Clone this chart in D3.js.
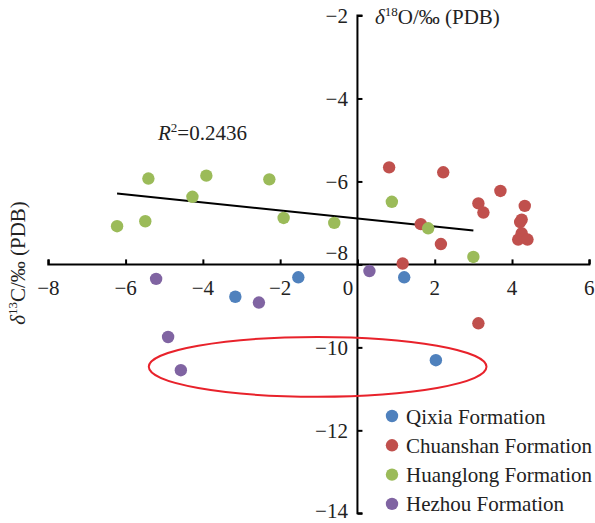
<!DOCTYPE html>
<html>
<head>
<meta charset="utf-8">
<script src="https://cdn.jsdelivr.net/npm/d3@7/dist/d3.min.js"></script>
<style>
  html, body { margin: 0; padding: 0; background: #fff; }
  svg { display: block; font-family: "Liberation Serif", "Times New Roman", serif; }
</style>
</head>
<body>
<svg id="chart" width="595" height="523"></svg>
<script>
// ---- data (δ18O, δ13C) ----
const seriesNames = ["Qixia Formation", "Chuanshan Formation", "Huanglong Formation", "Hezhou Formation"];
const seriesColors = ["#4F81BD", "#C0504D", "#9BBB59", "#8064A2"];

const qixiaX = [-1.53, 1.21, -3.16, 2.03];
const qixiaY = [-8.31, -8.31, -8.78, -10.31];

const chuanshanX = [0.82, 2.22, 3.70, 3.13, 3.26, 4.33, 4.25, 4.21, 4.25, 4.16, 4.40, 1.64, 2.16, 1.17, 3.13];
const chuanshanY = [-5.66, -5.78, -6.23, -6.53, -6.75, -6.59, -6.92, -6.98, -7.25, -7.40, -7.40, -7.03, -7.51, -7.98, -9.42];

const huanglongX = [-5.41, -3.91, -2.28, -4.27, -6.22, -5.49, -1.91, -0.60, 0.89, 1.83, 3.00];
const huanglongY = [-5.93, -5.86, -5.95, -6.37, -7.08, -6.96, -6.88, -7.00, -6.49, -7.13, -7.82];

const hezhouX = [-5.21, 0.31, -2.55, -4.90, -4.57];
const hezhouY = [-8.35, -8.16, -8.92, -9.75, -10.55];

const xTicks = [-8, -6, -4, -2, 0, 2, 4, 6];
const yTicks = [-14, -12, -10, -8, -6, -4, -2];
const r2Label = "0.2436";

// ellipse annotation in data units: centre x, centre y, half-width, half-height
const ellipseData = [-1.03, -10.47, 4.37, 0.72];

// ---- setup ----
const svg = d3.select("#chart");
const x = d3.scaleLinear().domain([-8, 6]).range([48.3, 589.3]);
const y = d3.scaleLinear().domain([-14, -2]).range([513.3, 15.5]);
const fmt = d3.format("d");
const FS = 21;

const series = [
  { xs: qixiaX, ys: qixiaY },
  { xs: chuanshanX, ys: chuanshanY },
  { xs: huanglongX, ys: huanglongY },
  { xs: hezhouX, ys: hezhouY }
].map((s, i) => ({ name: seriesNames[i], color: seriesColors[i], pts: s.xs.map((v, j) => [v, s.ys[j]]) }));

// ---- axes (crossing at x=0, y=-8) ----
const x0 = x(0), y0 = y(-8);

const xAxis = d3.axisTop(x).tickValues(xTicks).tickSize(5).tickFormat("");
const gx = svg.append("g").attr("transform", `translate(0,${y0})`).call(xAxis);
gx.select(".domain").attr("stroke", "#000").attr("stroke-width", 2).attr("d", `M${x(-8)},-5V0H${x(6)}V-5`);
gx.selectAll(".tick line").attr("stroke", "#000").attr("stroke-width", 2);

const yAxis = d3.axisRight(y).tickValues(yTicks).tickSize(5).tickFormat("");
const gy = svg.append("g").attr("transform", `translate(${x0},0)`).call(yAxis);
gy.select(".domain").attr("stroke", "#000").attr("stroke-width", 2).attr("d", `M5,${y(-2)}H0V${y(-14)}H5`);
gy.selectAll(".tick line").attr("stroke", "#000").attr("stroke-width", 2);

// x tick labels
svg.append("g").selectAll("text").data(xTicks).join("text")
  .attr("x", d => d === 0 ? x(d) - 9.5 : x(d))
  .attr("y", y0 + 30.5)
  .attr("text-anchor", "middle")
  .attr("font-size", FS)
  .attr("fill", "#222")
  .text(d => fmt(d));

// y tick labels
svg.append("g").selectAll("text").data(yTicks).join("text")
  .attr("x", x0 - 9.5)
  .attr("y", d => d === -8 ? y(d) - 4 : (d === -14 ? y(d) + 5 : y(d) + 7.5))
  .attr("text-anchor", "end")
  .attr("font-size", FS)
  .attr("fill", "#222")
  .text(d => fmt(d));

// axis titles
const tTop = svg.append("text").attr("x", 375).attr("y", 24).attr("font-size", FS).attr("fill", "#222");
tTop.append("tspan").attr("font-style", "italic").text("δ");
tTop.append("tspan").attr("font-size", 13).attr("dy", -8).text("18");
tTop.append("tspan").attr("dy", 8).text("O/‰ (PDB)");

const tLeft = svg.append("text").attr("transform", "translate(25,263) rotate(-90)")
  .attr("text-anchor", "middle").attr("font-size", FS).attr("fill", "#222");
tLeft.append("tspan").attr("font-style", "italic").text("δ");
tLeft.append("tspan").attr("font-size", 13).attr("dy", -8).text("13");
tLeft.append("tspan").attr("dy", 8).text("C/‰ (PDB)");

// ---- trendline (least squares on Huanglong) ----
const gPts = series[2].pts;
const mx = d3.mean(gPts, d => d[0]), my = d3.mean(gPts, d => d[1]);
const slope = d3.sum(gPts, d => (d[0] - mx) * (d[1] - my)) / d3.sum(gPts, d => (d[0] - mx) ** 2);
const icpt = my - slope * mx;
const [gxMin, gxMax] = d3.extent(gPts, d => d[0]);
svg.append("line")
  .attr("x1", x(gxMin)).attr("y1", y(icpt + slope * gxMin))
  .attr("x2", x(gxMax)).attr("y2", y(icpt + slope * gxMax))
  .attr("stroke", "#000").attr("stroke-width", 2);

const tR = svg.append("text").attr("x", 158).attr("y", 140).attr("font-size", FS).attr("fill", "#222");
tR.append("tspan").attr("font-style", "italic").text("R");
tR.append("tspan").attr("font-size", 13).attr("dy", -8).text("2");
tR.append("tspan").attr("dy", 8).text("=" + r2Label);

// ---- points ----
series.forEach(s => {
  svg.append("g").selectAll("circle").data(s.pts).join("circle")
    .attr("cx", d => x(d[0])).attr("cy", d => y(d[1]))
    .attr("r", 6.2).attr("fill", s.color);
});

// ---- ellipse annotation ----
svg.append("ellipse")
  .attr("cx", x(ellipseData[0])).attr("cy", y(ellipseData[1]))
  .attr("rx", x(ellipseData[0] + ellipseData[2]) - x(ellipseData[0]))
  .attr("ry", y(ellipseData[1]) - y(ellipseData[1] + ellipseData[3]))
  .attr("fill", "none").attr("stroke", "#E8222B").attr("stroke-width", 2);

// ---- legend ----
const lg = svg.append("g").attr("transform", "translate(392,416)");
series.forEach((s, i) => {
  const row = lg.append("g").attr("transform", `translate(0,${i * 29.3})`);
  row.append("circle").attr("r", 6.2).attr("fill", s.color);
  row.append("text").attr("x", 14).attr("y", 7.5).attr("font-size", FS).attr("fill", "#222").text(s.name);
});
</script>
</body>
</html>
